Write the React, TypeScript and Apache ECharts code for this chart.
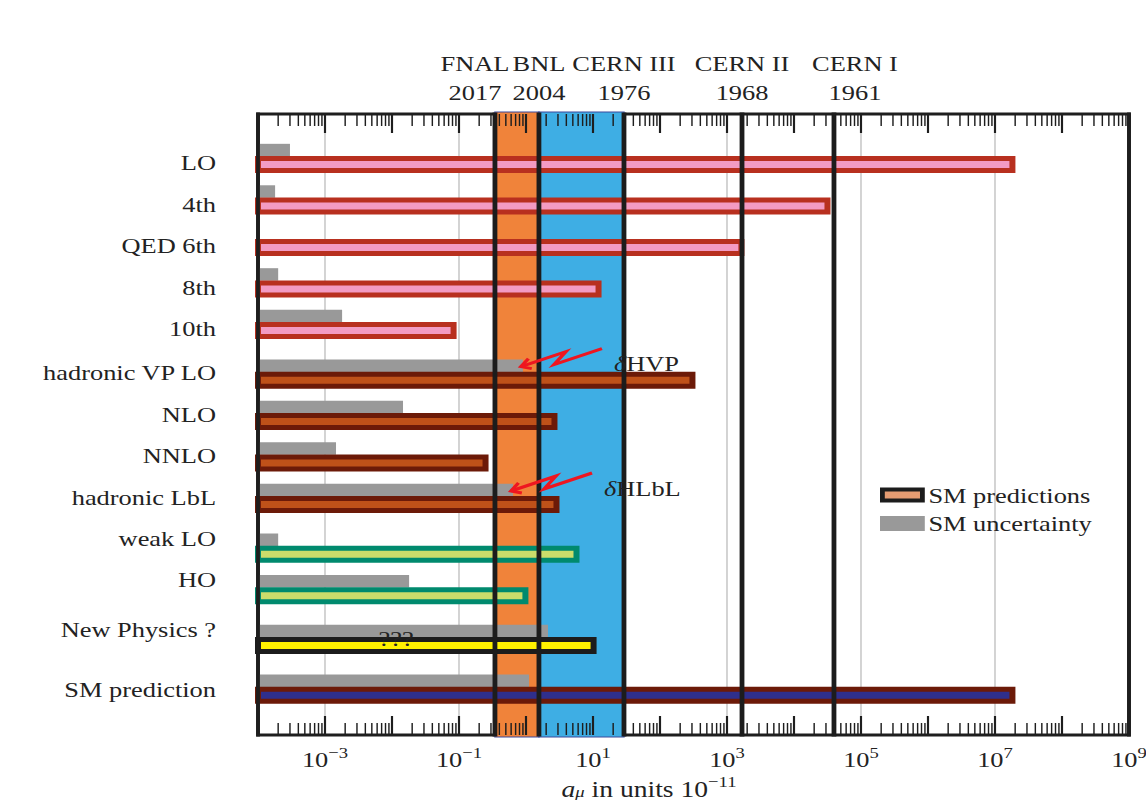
import React, { useEffect, useRef } from 'react';
import * as echarts from 'echarts';

// ---------------------------------------------------------------------------
// Muon g-2 budget: contributions to a_mu and their uncertainties (units 1e-11)
// ---------------------------------------------------------------------------
const rowLabels = [
  'LO', '4th', 'QED 6th', '8th', '10th',
  'hadronic VP LO', 'NLO', 'NNLO', 'hadronic LbL',
  'weak LO', 'HO',
  'New Physics ?',
  'SM prediction',
];
const rowSectors = [
  'QED', 'QED', 'QED', 'QED', 'QED',
  'hadronic', 'hadronic', 'hadronic', 'hadronic',
  'electroweak', 'electroweak',
  'new physics',
  'total',
];
const contributions = [1.82e7, 3.16e4, 1640, 12.1, 0.083, 305, 2.66, 0.249, 2.85, 5.67, 0.98, 10.2, 1.82e7];
const uncertainties = [3.0e-4, 1.8e-4, null, 2.0e-4, 1.8e-3, 0.9, 0.0146, 1.46e-3, 0.64, 2.0e-4, 0.018, 2.13, 1.11];

// experimental precision reached by each measurement (units 1e-11)
const experiments = ['FNAL', 'BNL', 'CERN III', 'CERN II', 'CERN I'];
const experimentYears = [2017, 2004, 1976, 1968, 1961];
const experimentPrecision = [0.344, 1.56, 29, 1675, 39500];

// axis range and labelled decades (exponents of 10)
const axisMin = 1e-4;
const axisMax = 1e9;
const labeledExponents = [-3, -1, 1, 3, 5, 7, 9];

// annotations
const arrowNotes = [
  { row: 'hadronic VP LO', text: 'HVP' },
  { row: 'hadronic LbL', text: 'HLbL' },
];
const openQuestion = { row: 'New Physics ?', value: 0.0115, text: '???' };

// ---------------------------------------------------------------------------
// Layout and style
// ---------------------------------------------------------------------------
// The figure is typeset wide: it is drawn narrower and stretched horizontally.
const SX = 1.2;
const W = 1146 / SX;
const H = 803;
const hx = (px: number) => px / SX;

const FONT = "'Liberation Serif', 'Times New Roman', serif";
const INK = '#222222';
const FS = 22;
const FS_SMALL = 15.5;
const GROUP_GAP = 0.2;

// per-sector bar colours and vertical placement of the row label
const sectorStyle: Record<string, { fill: string; stroke: string; labelDy: number }> = {
  QED: { fill: '#F39BC3', stroke: '#B8301F', labelDy: -2 },
  hadronic: { fill: '#BF5119', stroke: '#6C1A08', labelDy: -7.5 },
  electroweak: { fill: '#CBDD6B', stroke: '#008A6E', labelDy: -16 },
  'new physics': { fill: '#FFF100', stroke: '#1C1C1C', labelDy: -16 },
  total: { fill: '#2F2F8C', stroke: '#6C1A08', labelDy: -6 },
};
const bandColors = ['#F0833A', '#3EAEE4'];
const topLabelNudge: Record<string, number> = { FNAL: -20, 'CERN I': 21 };

// vertical slot of each row: one unit per row plus a small gap between sectors
const rowPos: number[] = (() => {
  let g = 0;
  return rowSectors.map((s, i) => {
    if (i > 0 && s !== rowSectors[i - 1]) g += 1;
    return i + g * GROUP_GAP;
  });
})();

// decade and sub-decade ticks
const tickMarks: number[][] = [];
for (let e = Math.round(Math.log10(axisMin)); e <= Math.round(Math.log10(axisMax)); e++) {
  tickMarks.push([Math.pow(10, e), 1]);
  if (Math.pow(10, e) < axisMax) {
    for (let m = 2; m <= 9; m++) tickMarks.push([m * Math.pow(10, e), 0]);
  }
}

const expText = (e: number) => (e < 0 ? '\u2212' + Math.abs(e) : String(e));

const textStyle = (extra: any = {}) => ({
  fontFamily: FONT,
  fontSize: FS,
  fill: INK,
  ...extra,
});

function arrowShape(tx: number, ty: number) {
  const offsets = [[81, -18], [33, -2], [45, -15], [0, 0]];
  const line = offsets.map(([dx, dy]) => [tx + hx(dx), ty + dy]);
  const dx = -45;
  const dy = 15;
  const len = Math.hypot(dx, dy);
  const bx = -dx / len;
  const by = -dy / len;
  const L = 11;
  const a = 0.5;
  const arm = (s: number) => {
    const c = Math.cos(s * a);
    const si = Math.sin(s * a);
    const rx = bx * c - by * si;
    const ry = bx * si + by * c;
    return [tx + hx(rx * L), ty + ry * L];
  };
  return { line, head: [arm(1), [tx, ty], arm(-1)] };
}

function buildOption(): any {
  const rowIdx = (name: string) => rowLabels.indexOf(name);

  return {
    animation: false,
    backgroundColor: '#ffffff',
    grid: {
      left: hx(258),
      top: 114,
      width: hx(871),
      height: 621,
      show: true,
      borderColor: '#1e1e1e',
      borderWidth: 3,
      backgroundColor: 'transparent',
    },
    xAxis: { type: 'log', logBase: 10, min: axisMin, max: axisMax, show: false },
    yAxis: { type: 'value', min: -1.22, max: 13.76, inverse: true, show: false },
    legend: {
      left: hx(880),
      top: 484,
      orient: 'vertical',
      itemGap: 6.5,
      itemWidth: hx(40),
      itemHeight: 11,
      padding: 0,
      selectedMode: false,
      textStyle: { fontFamily: FONT, fontSize: FS, color: INK },
      data: [
        { name: 'SM predictions', icon: 'rect', itemStyle: { color: '#E59C72', borderColor: '#1C1C1C', borderWidth: 4 } },
        { name: 'SM uncertainty', icon: 'rect', itemStyle: { color: '#999999', borderColor: '#999999', borderWidth: 4 } },
      ],
    },
    series: [
      // light grid lines on the labelled decades
      {
        type: 'custom',
        name: 'grid',
        z: 1,
        silent: true,
        data: labeledExponents.filter((e) => Math.pow(10, e) < axisMax).map((e) => [Math.pow(10, e), 0]),
        renderItem: (params: any, api: any) => {
          const cs = params.coordSys;
          const x = api.coord([api.value(0), 0])[0];
          return {
            type: 'line',
            shape: { x1: x, y1: cs.y, x2: x, y2: cs.y + cs.height },
            style: { stroke: '#BDBDBD', lineWidth: 1.1 },
          };
        },
      },
      // experimental precision bands
      {
        type: 'custom',
        name: 'bands',
        z: 2,
        silent: true,
        clip: false,
        data: bandColors.map((_, i) => [experimentPrecision[i], experimentPrecision[i + 1]]),
        renderItem: (params: any, api: any) => {
          const cs = params.coordSys;
          const x0 = api.coord([api.value(0), 0])[0];
          const x1 = api.coord([api.value(1), 0])[0];
          return {
            type: 'rect',
            shape: { x: x0, y: cs.y - 2, width: x1 - x0, height: cs.height + 4 },
            style: { fill: bandColors[params.dataIndex], stroke: '#3B4A9C', lineWidth: 1.2 },
          };
        },
      },
      // uncertainties
      {
        type: 'custom',
        name: 'SM uncertainty',
        z: 3,
        silent: true,
        itemStyle: { color: '#999999' },
        data: uncertainties
          .map((u, i) => (u == null ? null : [u, rowPos[i], i]))
          .filter((d) => d != null),
        renderItem: (params: any, api: any) => {
          const cs = params.coordSys;
          const [x1, c] = api.coord([api.value(0), api.value(1)]);
          return {
            type: 'rect',
            shape: { x: cs.x, y: c - 20.75, width: x1 - cs.x, height: 12.5 },
            style: { fill: '#999999' },
          };
        },
      },
      // contributions
      {
        type: 'custom',
        name: 'SM predictions',
        z: 3,
        silent: true,
        itemStyle: { color: '#E59C72' },
        data: contributions.map((v, i) => [v, rowPos[i], i]),
        renderItem: (params: any, api: any) => {
          const cs = params.coordSys;
          const i = api.value(2);
          const [x1, c] = api.coord([api.value(0), api.value(1)]);
          const st = sectorStyle[rowSectors[i]];
          return {
            type: 'rect',
            shape: { x: cs.x, y: c - 6, width: x1 - cs.x, height: 12 },
            style: { fill: st.fill, stroke: st.stroke, lineWidth: 5 },
          };
        },
      },
      // experiment lines with their names and years
      {
        type: 'custom',
        name: 'experiments',
        z: 4,
        silent: true,
        clip: false,
        data: experimentPrecision.map((v, i) => [v, 0, i]),
        renderItem: (params: any, api: any) => {
          const cs = params.coordSys;
          const i = api.value(2);
          const x = api.coord([api.value(0), 0])[0];
          const lx = x + hx(topLabelNudge[experiments[i]] || 0);
          return {
            type: 'group',
            children: [
              {
                type: 'line',
                shape: { x1: x, y1: cs.y - 1.5, x2: x, y2: cs.y + cs.height + 1.5 },
                style: { stroke: '#1C1C1C', lineWidth: 4 },
              },
              {
                type: 'text',
                x: lx,
                y: cs.y - 51,
                style: textStyle({ text: experiments[i], align: 'center', verticalAlign: 'middle' }),
              },
              {
                type: 'text',
                x: lx,
                y: cs.y - 22,
                style: textStyle({ text: String(experimentYears[i]), align: 'center', verticalAlign: 'middle' }),
              },
            ],
          };
        },
      },
      // frame sides
      {
        type: 'custom',
        name: 'frame',
        z: 6,
        silent: true,
        clip: false,
        data: [[axisMin, 0]],
        renderItem: (params: any) => {
          const cs = params.coordSys;
          const side = (x: number) => ({
            type: 'line',
            shape: { x1: x, y1: cs.y - 1.5, x2: x, y2: cs.y + cs.height + 1.5 },
            style: { stroke: '#1E1E1E', lineWidth: 3.2 },
          });
          return { type: 'group', children: [side(cs.x), side(cs.x + cs.width)] };
        },
      },
      // ticks, top and bottom, pointing inwards
      {
        type: 'custom',
        name: 'ticks',
        z: 6,
        silent: true,
        clip: false,
        data: tickMarks,
        renderItem: (params: any, api: any) => {
          const cs = params.coordSys;
          const x = api.coord([api.value(0), 0])[0];
          const major = api.value(1) === 1;
          const len = major ? 19 : 12;
          const style = { stroke: '#1E1E1E', lineWidth: major ? 1.8 : 1.2 };
          return {
            type: 'group',
            children: [
              { type: 'line', shape: { x1: x, y1: cs.y, x2: x, y2: cs.y + len }, style },
              { type: 'line', shape: { x1: x, y1: cs.y + cs.height, x2: x, y2: cs.y + cs.height - len }, style },
            ],
          };
        },
      },
      // decade labels under the axis
      {
        type: 'custom',
        name: 'decades',
        z: 7,
        silent: true,
        clip: false,
        data: labeledExponents.map((e) => [Math.pow(10, e), 0, e]),
        renderItem: (params: any, api: any) => {
          const cs = params.coordSys;
          const x = api.coord([api.value(0), 0])[0];
          const e = api.value(2);
          return {
            type: 'text',
            x,
            y: cs.y + cs.height + 10,
            style: {
              text: `{b|10}{s|${expText(e)}}`,
              align: 'center',
              verticalAlign: 'top',
              fill: INK,
              rich: {
                b: { fontFamily: FONT, fontSize: FS, lineHeight: 25, verticalAlign: 'bottom', fill: INK },
                s: { fontFamily: FONT, fontSize: FS_SMALL, lineHeight: 15, verticalAlign: 'top', fill: INK },
              },
            },
          };
        },
      },
      // row labels
      {
        type: 'custom',
        name: 'rows',
        z: 7,
        silent: true,
        clip: false,
        data: rowPos.map((p, i) => [axisMin, p, i]),
        renderItem: (params: any, api: any) => {
          const cs = params.coordSys;
          const i = api.value(2);
          const c = api.coord([api.value(0), api.value(1)])[1];
          return {
            type: 'text',
            x: cs.x - hx(42),
            y: c + sectorStyle[rowSectors[i]].labelDy,
            style: textStyle({ text: rowLabels[i], align: 'right', verticalAlign: 'middle' }),
          };
        },
      },
      // arrows to the hadronic uncertainties
      {
        type: 'custom',
        name: 'notes',
        z: 7,
        silent: true,
        clip: false,
        data: arrowNotes.map((n) => {
          const j = rowIdx(n.row);
          return [uncertainties[j] as number, rowPos[j]];
        }),
        renderItem: (params: any, api: any) => {
          const [gx, c] = api.coord([api.value(0), api.value(1)]);
          const tx = gx - hx(2);
          const ty = c - 14.5 + 1;
          const shape = arrowShape(tx, ty);
          const red = { stroke: '#EE1620', lineWidth: 3, fill: null, lineJoin: 'miter' };
          return {
            type: 'group',
            children: [
              { type: 'polyline', shape: { points: shape.line }, style: red },
              { type: 'polyline', shape: { points: shape.head }, style: red },
              {
                type: 'text',
                x: tx + hx(93),
                y: ty - 3,
                style: {
                  text: `{d|\u03b4}{t|${arrowNotes[params.dataIndex].text}}`,
                  align: 'left',
                  verticalAlign: 'middle',
                  rich: {
                    d: { fontFamily: FONT, fontSize: FS, fontStyle: 'italic', fill: INK },
                    t: { fontFamily: FONT, fontSize: FS, fill: INK },
                  },
                },
              },
            ],
          };
        },
      },
      // the open question on the new-physics row
      {
        type: 'custom',
        name: 'question',
        z: 7,
        silent: true,
        clip: false,
        data: [[openQuestion.value, rowPos[rowIdx(openQuestion.row)]]],
        renderItem: (params: any, api: any) => {
          const [x, c] = api.coord([api.value(0), api.value(1)]);
          return {
            type: 'text',
            x,
            y: c - 7,
            style: textStyle({ text: openQuestion.text, align: 'center', verticalAlign: 'middle' }),
          };
        },
      },
    ],
    graphic: [
      {
        type: 'text',
        x: hx(649),
        y: 787,
        silent: true,
        style: {
          text: '{i|a}{u|\u03bc}{n| in units 10}{p|\u221211}',
          align: 'center',
          verticalAlign: 'middle',
          rich: {
            i: { fontFamily: FONT, fontSize: FS + 1, fontStyle: 'italic', lineHeight: 26, verticalAlign: 'bottom', fill: INK },
            u: { fontFamily: FONT, fontSize: FS_SMALL, fontStyle: 'italic', lineHeight: 15, verticalAlign: 'bottom', fill: INK },
            n: { fontFamily: FONT, fontSize: FS + 1, lineHeight: 26, verticalAlign: 'bottom', fill: INK },
            p: { fontFamily: FONT, fontSize: FS_SMALL, lineHeight: 15, verticalAlign: 'top', fill: INK },
          },
        },
      },
    ],
  };
}

export default function App() {
  const ref = useRef<HTMLDivElement>(null);

  useEffect(() => {
    if (!ref.current) return;
    const chart = echarts.init(ref.current, null, { renderer: 'svg' });
    chart.setOption(buildOption());
    return () => {
      chart.dispose();
    };
  }, []);

  return (
    <div
      style={{
        position: 'fixed',
        left: 0,
        top: 0,
        width: 1146,
        height: 803,
        overflow: 'hidden',
        background: '#ffffff',
      }}
    >
      <div
        ref={ref}
        style={{ width: W, height: H, transform: `scaleX(${SX})`, transformOrigin: '0 0' }}
      />
    </div>
  );
}
